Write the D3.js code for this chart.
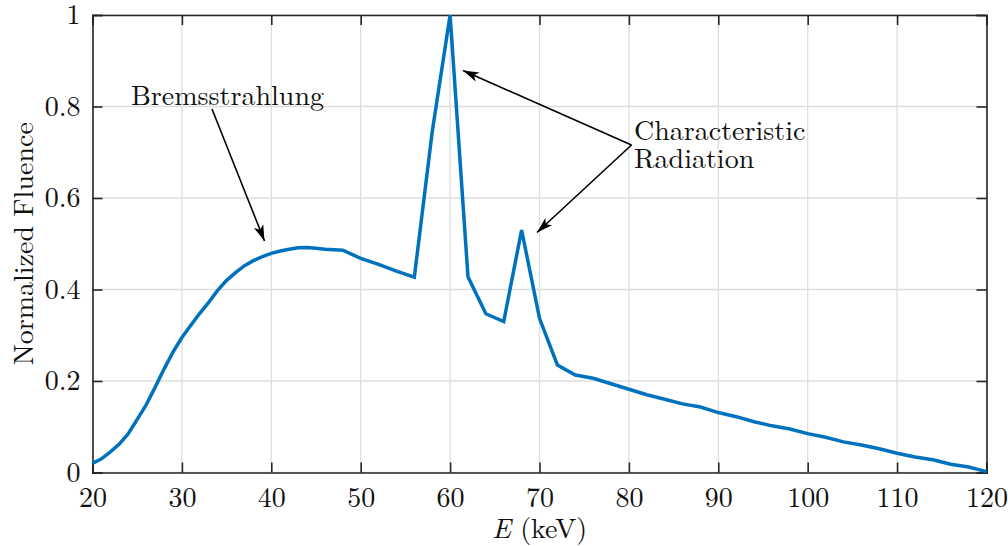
<!DOCTYPE html>
<html>
<head>
<meta charset="utf-8">
<script src="https://cdnjs.cloudflare.com/ajax/libs/d3/7.8.5/d3.min.js"></script>
<style>
  body { margin: 0; background: #fff; }
</style>
</head>
<body>
<div id="vis"></div>
<script>
// Spectrum data (keV, normalized fluence)
var energy = [20, 21, 22, 23, 24, 25, 26, 27, 28, 29, 30, 31, 32, 33, 34, 35, 36, 37, 38, 39,
              40, 41, 42, 43, 44, 45, 46, 47, 48, 50, 52, 54, 56, 58,
              60, 62, 64, 66, 68, 70, 72, 74, 76, 78, 80, 82, 84, 86, 88, 90, 92, 94, 96, 98,
              100, 102, 104, 106, 108, 110, 112, 114, 116, 118, 120];
var fluence = [0.020, 0.030, 0.045, 0.062, 0.085, 0.116, 0.148, 0.186, 0.226, 0.263, 0.295, 0.322, 0.348, 0.372, 0.398, 0.420, 0.437, 0.452, 0.463, 0.472,
               0.479, 0.484, 0.488, 0.491, 0.492, 0.490, 0.488, 0.487, 0.486, 0.468, 0.455, 0.440, 0.427, 0.745,
               1.0, 0.428, 0.347, 0.330, 0.530, 0.337, 0.235, 0.213, 0.206, 0.194, 0.182, 0.170, 0.160, 0.150, 0.143, 0.131, 0.122, 0.111, 0.102, 0.095,
               0.085, 0.077, 0.067, 0.060, 0.052, 0.042, 0.034, 0.028, 0.018, 0.012, 0.002];
var xTicks = [20, 30, 40, 50, 60, 70, 80, 90, 100, 110, 120];
var yTicks = [0, 0.2, 0.4, 0.6, 0.8, 1];

var width = 1008, height = 546;
var margin = {left: 92.5, right: 21.5, top: 15, bottom: 73.5};
var fontFamily = "'Latin Modern Roman', 'Liberation Serif', serif";
var fontSize = "28px";

var svg = d3.select("#vis").append("svg")
    .attr("width", width)
    .attr("height", height);

var x = d3.scaleLinear().domain([20, 120]).range([margin.left, width - margin.right]);
var y = d3.scaleLinear().domain([0, 1]).range([height - margin.bottom, margin.top]);

// grid
svg.append("g").selectAll("line").data(xTicks).enter().append("line")
    .attr("x1", d => x(d)).attr("x2", d => x(d))
    .attr("y1", y(0)).attr("y2", y(1))
    .attr("stroke", "#dedede").attr("stroke-width", 1.3);
svg.append("g").selectAll("line").data(yTicks).enter().append("line")
    .attr("y1", d => y(d)).attr("y2", d => y(d))
    .attr("x1", x(20)).attr("x2", x(120))
    .attr("stroke", "#dedede").attr("stroke-width", 1.3);

// axes (inward ticks on all sides)
var tickLen = 10;
var axisColor = "#262626";
var xb = svg.append("g").attr("transform", "translate(0," + y(0) + ")")
    .call(d3.axisBottom(x).tickValues(xTicks).tickSize(-tickLen).tickPadding(0).tickFormat(d3.format("d")));
var xt = svg.append("g").attr("transform", "translate(0," + y(1) + ")")
    .call(d3.axisTop(x).tickValues(xTicks).tickSize(-tickLen).tickFormat(""));
var yl = svg.append("g").attr("transform", "translate(" + x(20) + ",0)")
    .call(d3.axisLeft(y).tickValues(yTicks).tickSize(-tickLen).tickPadding(12).tickFormat(d => String(d)));
var yr = svg.append("g").attr("transform", "translate(" + x(120) + ",0)")
    .call(d3.axisRight(y).tickValues(yTicks).tickSize(-tickLen).tickFormat(""));

[xb, xt, yl, yr].forEach(function(g) {
    g.attr("font-family", null).attr("font-size", null);
    g.select(".domain").attr("stroke", axisColor).attr("stroke-width", 1.6);
    g.selectAll(".tick line").attr("stroke", axisColor).attr("stroke-width", 1.6);
    g.selectAll(".tick text")
        .style("font-family", fontFamily)
        .style("font-size", fontSize)
        .attr("fill", "#111");
});
xb.selectAll(".tick text").attr("y", 34).attr("dy", null);
yl.selectAll(".tick text").attr("dy", "0.32em");

// spectrum line
var line = d3.line().x((d, i) => x(energy[i])).y(d => y(d));
svg.append("path")
    .datum(fluence)
    .attr("d", line)
    .attr("fill", "none")
    .attr("stroke", "#0072BD")
    .attr("stroke-width", 3.5)
    .attr("stroke-linejoin", "miter");

// axis labels
svg.append("text")
    .attr("x", (x(20) + x(120)) / 2).attr("y", 538)
    .attr("text-anchor", "middle")
    .style("font-family", fontFamily)
    .style("font-size", fontSize)
    .attr("fill", "#111")
    .html('<tspan font-style="italic">E</tspan> (keV)');
svg.append("text")
    .attr("transform", "translate(33," + (y(0) + y(1)) / 2 + ") rotate(-90)")
    .attr("text-anchor", "middle")
    .style("font-family", fontFamily)
    .style("font-size", fontSize)
    .attr("fill", "#111")
    .text("Normalized Fluence");

// arrowheads
svg.append("defs").append("marker")
    .attr("id", "arr")
    .attr("viewBox", "0 -6 16 12")
    .attr("refX", 16).attr("refY", 0)
    .attr("markerWidth", 16).attr("markerHeight", 12)
    .attr("markerUnits", "userSpaceOnUse")
    .attr("orient", "auto")
    .append("path")
    .attr("d", "M0,-5L16,0L0,5L4,0Z")
    .attr("fill", "#000");

// annotations
function label(tx, ty, str) {
    svg.append("text")
        .attr("x", tx).attr("y", ty)
        .style("font-family", fontFamily)
        .style("font-size", fontSize)
        .attr("fill", "#111")
        .text(str);
}
function arrow(x1, y1, x2, y2) {
    svg.append("line")
        .attr("x1", x1).attr("y1", y1)
        .attr("x2", x2).attr("y2", y2)
        .attr("stroke", "#000").attr("stroke-width", 1.6)
        .attr("marker-end", "url(#arr)");
}

label(131, 105, "Bremsstrahlung");
arrow(212, 109, 264.5, 241);

label(634, 140, "Characteristic");
label(634, 168, "Radiation");
arrow(631.5, 145, 463, 70.5);
arrow(631.5, 145, 537, 232.5);
</script>
</body>
</html>
